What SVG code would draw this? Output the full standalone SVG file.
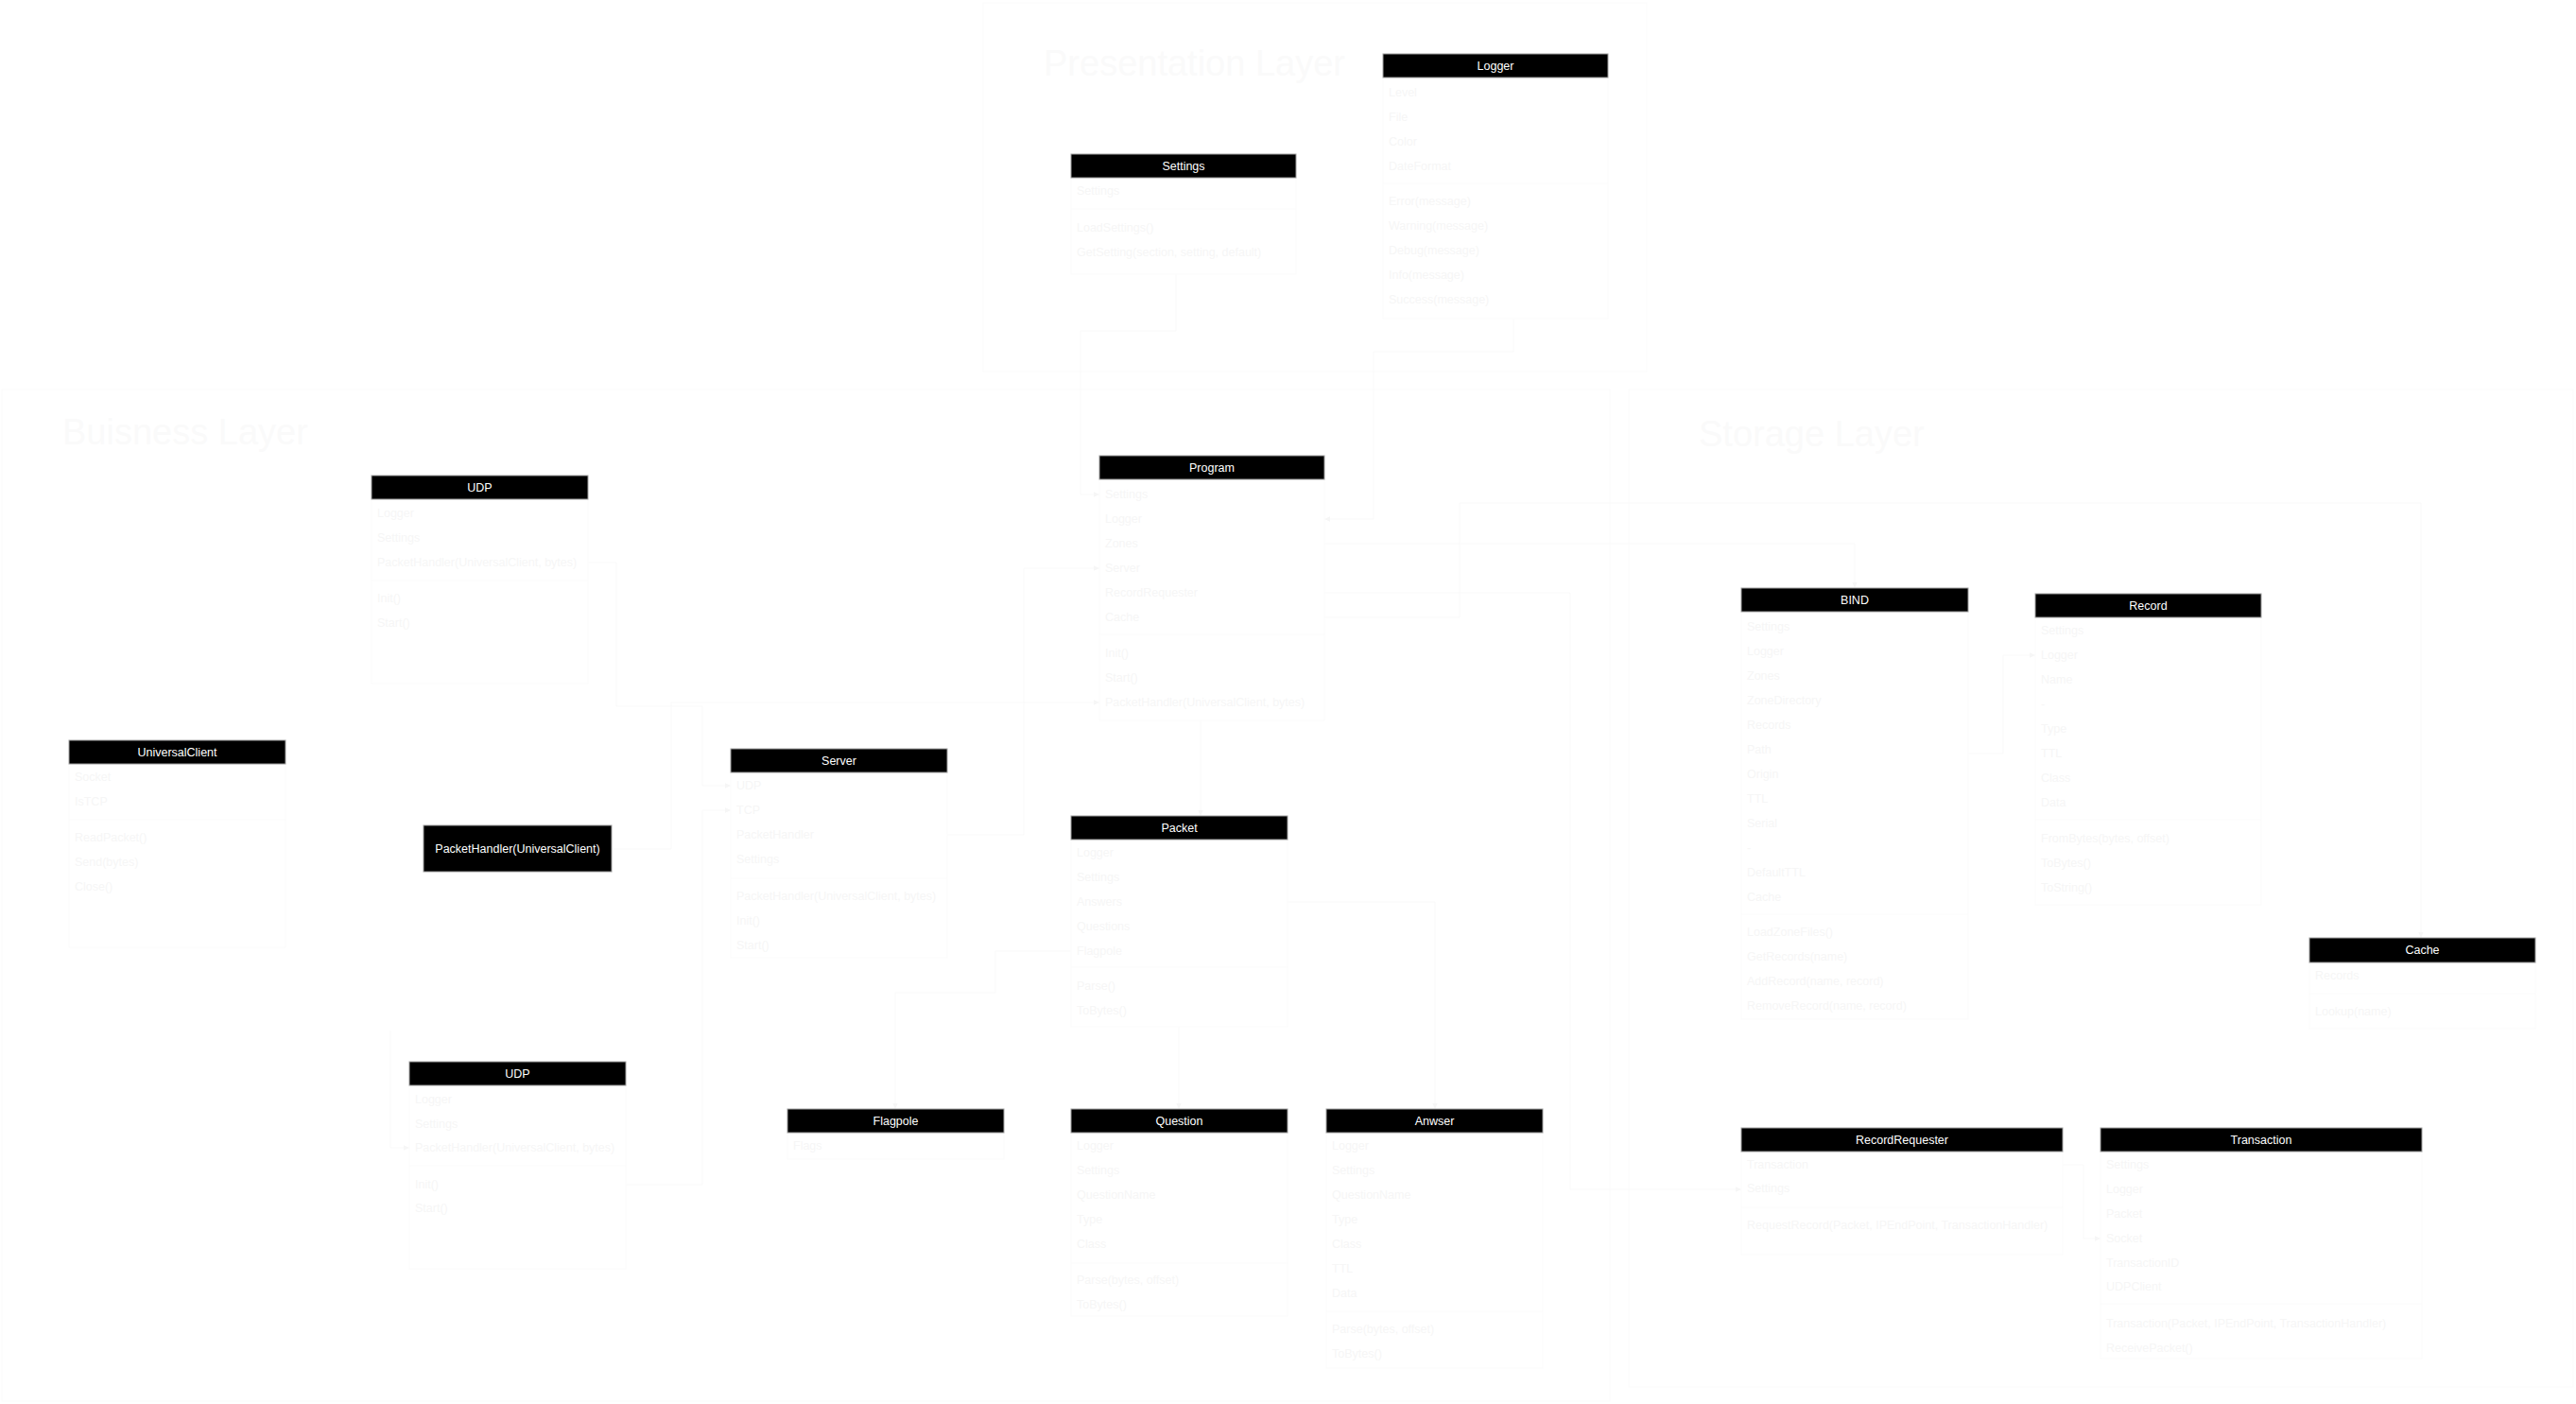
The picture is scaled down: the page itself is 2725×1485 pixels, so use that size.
<svg xmlns="http://www.w3.org/2000/svg" width="2725" height="1485" viewBox="0 0 2725 1485">
<defs>
<style>
.hdr{fill:#000;stroke:#a0a0a0;stroke-width:1}
.lbl{fill:#fff;font-family:"Liberation Sans",Arial,sans-serif;font-size:12.5px;text-anchor:middle}
.body{fill:none;stroke:#fbfbfb;stroke-width:1}
.div{stroke:#fbfbfb;stroke-width:1}
.t{fill:#f6f6f6;font-family:"Liberation Sans",Arial,sans-serif;font-size:12.5px}
.layer{fill:none;stroke:#fbfbfb;stroke-width:1}
.title{fill:#fafafa;font-family:"Liberation Sans",Arial,sans-serif;font-size:38px}
.conn{fill:none;stroke:#f9f9f9;stroke-width:1;marker-end:url(#arr)}
</style>
<marker id="arr" viewBox="0 0 10 10" refX="9" refY="5" markerWidth="7" markerHeight="7" orient="auto">
<path d="M0,1 L9,5 L0,9 z" fill="#f6f6f6"/>
</marker>
</defs>
<rect width="2725" height="1485" fill="#fff"/>

<g id="layers">
<rect class="layer" x="1040" y="3" width="702" height="390"/>
<text class="title" x="1104" y="80">Presentation Layer</text>
<rect class="layer" x="2" y="412" width="1701" height="1070"/>
<text class="title" x="66" y="470">Buisness Layer</text>
<rect class="layer" x="1723" y="412" width="999" height="1055"/>
<text class="title" x="1797" y="472">Storage Layer</text>
</g>

<g id="connectors">
<path class="conn" d="M1244,290 V350 H1143 V523 H1163"/>
<path class="conn" d="M1601,337 V372 H1453 V549 H1401"/>
<path class="conn" d="M1401,575 H1962 V622"/>
<path class="conn" d="M1401,653 H1544 V532 H2561 V992"/>
<path class="conn" d="M1401,627 H1661 V1258 H1842"/>
<path class="conn" d="M1002,883 H1083 V601 H1163"/>
<path class="conn" d="M647,898 H710 V743 H1163"/>
<path class="conn" d="M622,595 H652 V747 H743 V831 H773"/>
<path class="conn" d="M662,1253 H743 V857 H773"/>
<path class="conn" d="M1270,762 V863"/>
<path class="conn" d="M1247,1086 V1173"/>
<path class="conn" d="M1362,954 H1518 V1173"/>
<path class="conn" d="M1133,1006 H1053 V1050 H947 V1173"/>
<path class="conn" d="M2182,1232 H2204 V1310 H2222"/>
<path class="conn" d="M2082,797 H2119 V693 H2153"/>
<path class="conn" d="M413,1090 V1214 H433"/>
</g>

<g id="Logger">
<rect class="body" x="1463" y="82" width="238" height="255"/>
<line class="div" x1="1463" y1="194" x2="1701" y2="194"/>
<rect class="hdr" x="1463" y="57" width="238" height="25"/>
<text class="lbl" x="1582" y="74">Logger</text>
<text class="t" x="1469" y="102">Level</text>
<text class="t" x="1469" y="128">File</text>
<text class="t" x="1469" y="154">Color</text>
<text class="t" x="1469" y="180">DateFormat</text>
<text class="t" x="1469" y="217">Error(message)</text>
<text class="t" x="1469" y="243">Warning(message)</text>
<text class="t" x="1469" y="269">Debug(message)</text>
<text class="t" x="1469" y="295">Info(message)</text>
<text class="t" x="1469" y="321">Success(message)</text>
</g>

<g id="Settings">
<rect class="body" x="1133" y="188" width="238" height="102"/>
<line class="div" x1="1133" y1="221" x2="1371" y2="221"/>
<rect class="hdr" x="1133" y="163" width="238" height="25"/>
<text class="lbl" x="1252" y="180">Settings</text>
<text class="t" x="1139" y="206">Settings</text>
<text class="t" x="1139" y="245">LoadSettings()</text>
<text class="t" x="1139" y="271">GetSetting(section, setting, default)</text>
</g>

<g id="Program">
<rect class="body" x="1163" y="507" width="238" height="255"/>
<line class="div" x1="1163" y1="671" x2="1401" y2="671"/>
<rect class="hdr" x="1163" y="482" width="238" height="25"/>
<text class="lbl" x="1282" y="499">Program</text>
<text class="t" x="1169" y="527">Settings</text>
<text class="t" x="1169" y="553">Logger</text>
<text class="t" x="1169" y="579">Zones</text>
<text class="t" x="1169" y="605">Server</text>
<text class="t" x="1169" y="631">RecordRequester</text>
<text class="t" x="1169" y="657">Cache</text>
<text class="t" x="1169" y="695">Init()</text>
<text class="t" x="1169" y="721">Start()</text>
<text class="t" x="1169" y="747">PacketHandler(UniversalClient, bytes)</text>
</g>

<g id="UDP-top">
<rect class="body" x="393" y="528" width="229" height="195"/>
<line class="div" x1="393" y1="614" x2="622" y2="614"/>
<rect class="hdr" x="393" y="503" width="229" height="25"/>
<text class="lbl" x="507.5" y="520">UDP</text>
<text class="t" x="399" y="547">Logger</text>
<text class="t" x="399" y="573">Settings</text>
<text class="t" x="399" y="599">PacketHandler(UniversalClient, bytes)</text>
<text class="t" x="399" y="637">Init()</text>
<text class="t" x="399" y="663">Start()</text>
</g>

<g id="UniversalClient">
<rect class="body" x="73" y="808" width="229" height="194"/>
<line class="div" x1="73" y1="867" x2="302" y2="867"/>
<rect class="hdr" x="73" y="783" width="229" height="25"/>
<text class="lbl" x="187.5" y="800">UniversalClient</text>
<text class="t" x="79" y="826">Socket</text>
<text class="t" x="79" y="852">IsTCP</text>
<text class="t" x="79" y="890">ReadPacket()</text>
<text class="t" x="79" y="916">Send(bytes)</text>
<text class="t" x="79" y="942">Close()</text>
</g>

<g id="Server">
<rect class="body" x="773" y="817" width="229" height="196"/>
<line class="div" x1="773" y1="929" x2="1002" y2="929"/>
<rect class="hdr" x="773" y="792" width="229" height="25"/>
<text class="lbl" x="887.5" y="809">Server</text>
<text class="t" x="779" y="835">UDP</text>
<text class="t" x="779" y="861">TCP</text>
<text class="t" x="779" y="887">PacketHandler</text>
<text class="t" x="779" y="913">Settings</text>
<text class="t" x="779" y="952">PacketHandler(UniversalClient, bytes)</text>
<text class="t" x="779" y="978">Init()</text>
<text class="t" x="779" y="1004">Start()</text>
</g>

<g id="PacketHandler">
<rect class="hdr" x="448" y="873" width="199" height="49"/>
<text class="lbl" x="547.5" y="902">PacketHandler(UniversalClient)</text>
</g>

<g id="Packet">
<rect class="body" x="1133" y="888" width="229" height="198"/>
<line class="div" x1="1133" y1="1023" x2="1362" y2="1023"/>
<rect class="hdr" x="1133" y="863" width="229" height="25"/>
<text class="lbl" x="1247.5" y="880">Packet</text>
<text class="t" x="1139" y="906">Logger</text>
<text class="t" x="1139" y="932">Settings</text>
<text class="t" x="1139" y="958">Answers</text>
<text class="t" x="1139" y="984">Questions</text>
<text class="t" x="1139" y="1010">Flagpole</text>
<text class="t" x="1139" y="1047">Parse()</text>
<text class="t" x="1139" y="1073">ToBytes()</text>
</g>

<g id="UDP-bottom">
<rect class="body" x="433" y="1148" width="229" height="194"/>
<line class="div" x1="433" y1="1233" x2="662" y2="1233"/>
<rect class="hdr" x="433" y="1123" width="229" height="25"/>
<text class="lbl" x="547.5" y="1140">UDP</text>
<text class="t" x="439" y="1167">Logger</text>
<text class="t" x="439" y="1193">Settings</text>
<text class="t" x="439" y="1218">PacketHandler(UniversalClient, bytes)</text>
<text class="t" x="439" y="1257">Init()</text>
<text class="t" x="439" y="1282">Start()</text>
</g>

<g id="Flagpole">
<rect class="body" x="833" y="1198" width="229" height="28"/>
<rect class="hdr" x="833" y="1173" width="229" height="25"/>
<text class="lbl" x="947.5" y="1190">Flagpole</text>
<text class="t" x="839" y="1216">Flags</text>
</g>

<g id="Question">
<rect class="body" x="1133" y="1198" width="229" height="194"/>
<line class="div" x1="1133" y1="1336" x2="1362" y2="1336"/>
<rect class="hdr" x="1133" y="1173" width="229" height="25"/>
<text class="lbl" x="1247.5" y="1190">Question</text>
<text class="t" x="1139" y="1216">Logger</text>
<text class="t" x="1139" y="1242">Settings</text>
<text class="t" x="1139" y="1268">QuestionName</text>
<text class="t" x="1139" y="1294">Type</text>
<text class="t" x="1139" y="1320">Class</text>
<text class="t" x="1139" y="1358">Parse(bytes, offset)</text>
<text class="t" x="1139" y="1384">ToBytes()</text>
</g>

<g id="Anwser">
<rect class="body" x="1403" y="1198" width="229" height="249"/>
<line class="div" x1="1403" y1="1387" x2="1632" y2="1387"/>
<rect class="hdr" x="1403" y="1173" width="229" height="25"/>
<text class="lbl" x="1517.5" y="1190">Anwser</text>
<text class="t" x="1409" y="1216">Logger</text>
<text class="t" x="1409" y="1242">Settings</text>
<text class="t" x="1409" y="1268">QuestionName</text>
<text class="t" x="1409" y="1294">Type</text>
<text class="t" x="1409" y="1320">Class</text>
<text class="t" x="1409" y="1346">TTL</text>
<text class="t" x="1409" y="1372">Data</text>
<text class="t" x="1409" y="1410">Parse(bytes, offset)</text>
<text class="t" x="1409" y="1436">ToBytes()</text>
</g>

<g id="BIND">
<rect class="body" x="1842" y="647" width="240" height="431"/>
<line class="div" x1="1842" y1="967" x2="2082" y2="967"/>
<rect class="hdr" x="1842" y="622" width="240" height="25"/>
<text class="lbl" x="1962" y="639">BIND</text>
<text class="t" x="1848" y="667">Settings</text>
<text class="t" x="1848" y="693">Logger</text>
<text class="t" x="1848" y="719">Zones</text>
<text class="t" x="1848" y="745">ZoneDirectory</text>
<text class="t" x="1848" y="771">Records</text>
<text class="t" x="1848" y="797">Path</text>
<text class="t" x="1848" y="823">Origin</text>
<text class="t" x="1848" y="849">TTL</text>
<text class="t" x="1848" y="875">Serial</text>
<text class="t" x="1848" y="901">-</text>
<text class="t" x="1848" y="927">DefaultTTL</text>
<text class="t" x="1848" y="953">Cache</text>
<text class="t" x="1848" y="990">LoadZoneFiles()</text>
<text class="t" x="1848" y="1016">GetRecords(name)</text>
<text class="t" x="1848" y="1042">AddRecord(name, record)</text>
<text class="t" x="1848" y="1068">RemoveRecord(name, record)</text>
</g>

<g id="Record">
<rect class="body" x="2153" y="653" width="239" height="304"/>
<line class="div" x1="2153" y1="867" x2="2392" y2="867"/>
<rect class="hdr" x="2153" y="628" width="239" height="25"/>
<text class="lbl" x="2272.5" y="645">Record</text>
<text class="t" x="2159" y="671">Settings</text>
<text class="t" x="2159" y="697">Logger</text>
<text class="t" x="2159" y="723">Name</text>
<text class="t" x="2159" y="749">-</text>
<text class="t" x="2159" y="775">Type</text>
<text class="t" x="2159" y="801">TTL</text>
<text class="t" x="2159" y="827">Class</text>
<text class="t" x="2159" y="853">Data</text>
<text class="t" x="2159" y="891">FromBytes(bytes, offset)</text>
<text class="t" x="2159" y="917">ToBytes()</text>
<text class="t" x="2159" y="943">ToString()</text>
</g>

<g id="Cache">
<rect class="body" x="2443" y="1018" width="239" height="70"/>
<line class="div" x1="2443" y1="1051" x2="2682" y2="1051"/>
<rect class="hdr" x="2443" y="992" width="239" height="26"/>
<text class="lbl" x="2562.5" y="1009">Cache</text>
<text class="t" x="2449" y="1036">Records</text>
<text class="t" x="2449" y="1074">Lookup(name)</text>
</g>

<g id="RecordRequester">
<rect class="body" x="1842" y="1218" width="340" height="109"/>
<line class="div" x1="1842" y1="1277" x2="2182" y2="1277"/>
<rect class="hdr" x="1842" y="1193" width="340" height="25"/>
<text class="lbl" x="2012" y="1210">RecordRequester</text>
<text class="t" x="1848" y="1236">Transaction</text>
<text class="t" x="1848" y="1261">Settings</text>
<text class="t" x="1848" y="1300">RequestRecord(Packet, IPEndPoint, TransactionHandler)</text>
</g>

<g id="Transaction">
<rect class="body" x="2222" y="1218" width="340" height="219"/>
<line class="div" x1="2222" y1="1379" x2="2562" y2="1379"/>
<rect class="hdr" x="2222" y="1193" width="340" height="25"/>
<text class="lbl" x="2392" y="1210">Transaction</text>
<text class="t" x="2228" y="1236">Settings</text>
<text class="t" x="2228" y="1262">Logger</text>
<text class="t" x="2228" y="1288">Packet</text>
<text class="t" x="2228" y="1314">Socket</text>
<text class="t" x="2228" y="1340">TransactionID</text>
<text class="t" x="2228" y="1365">UDPClient</text>
<text class="t" x="2228" y="1404">Transaction(Packet, IPEndPoint, TransactionHandler)</text>
<text class="t" x="2228" y="1430">ReceivePacket()</text>
</g>
</svg>
